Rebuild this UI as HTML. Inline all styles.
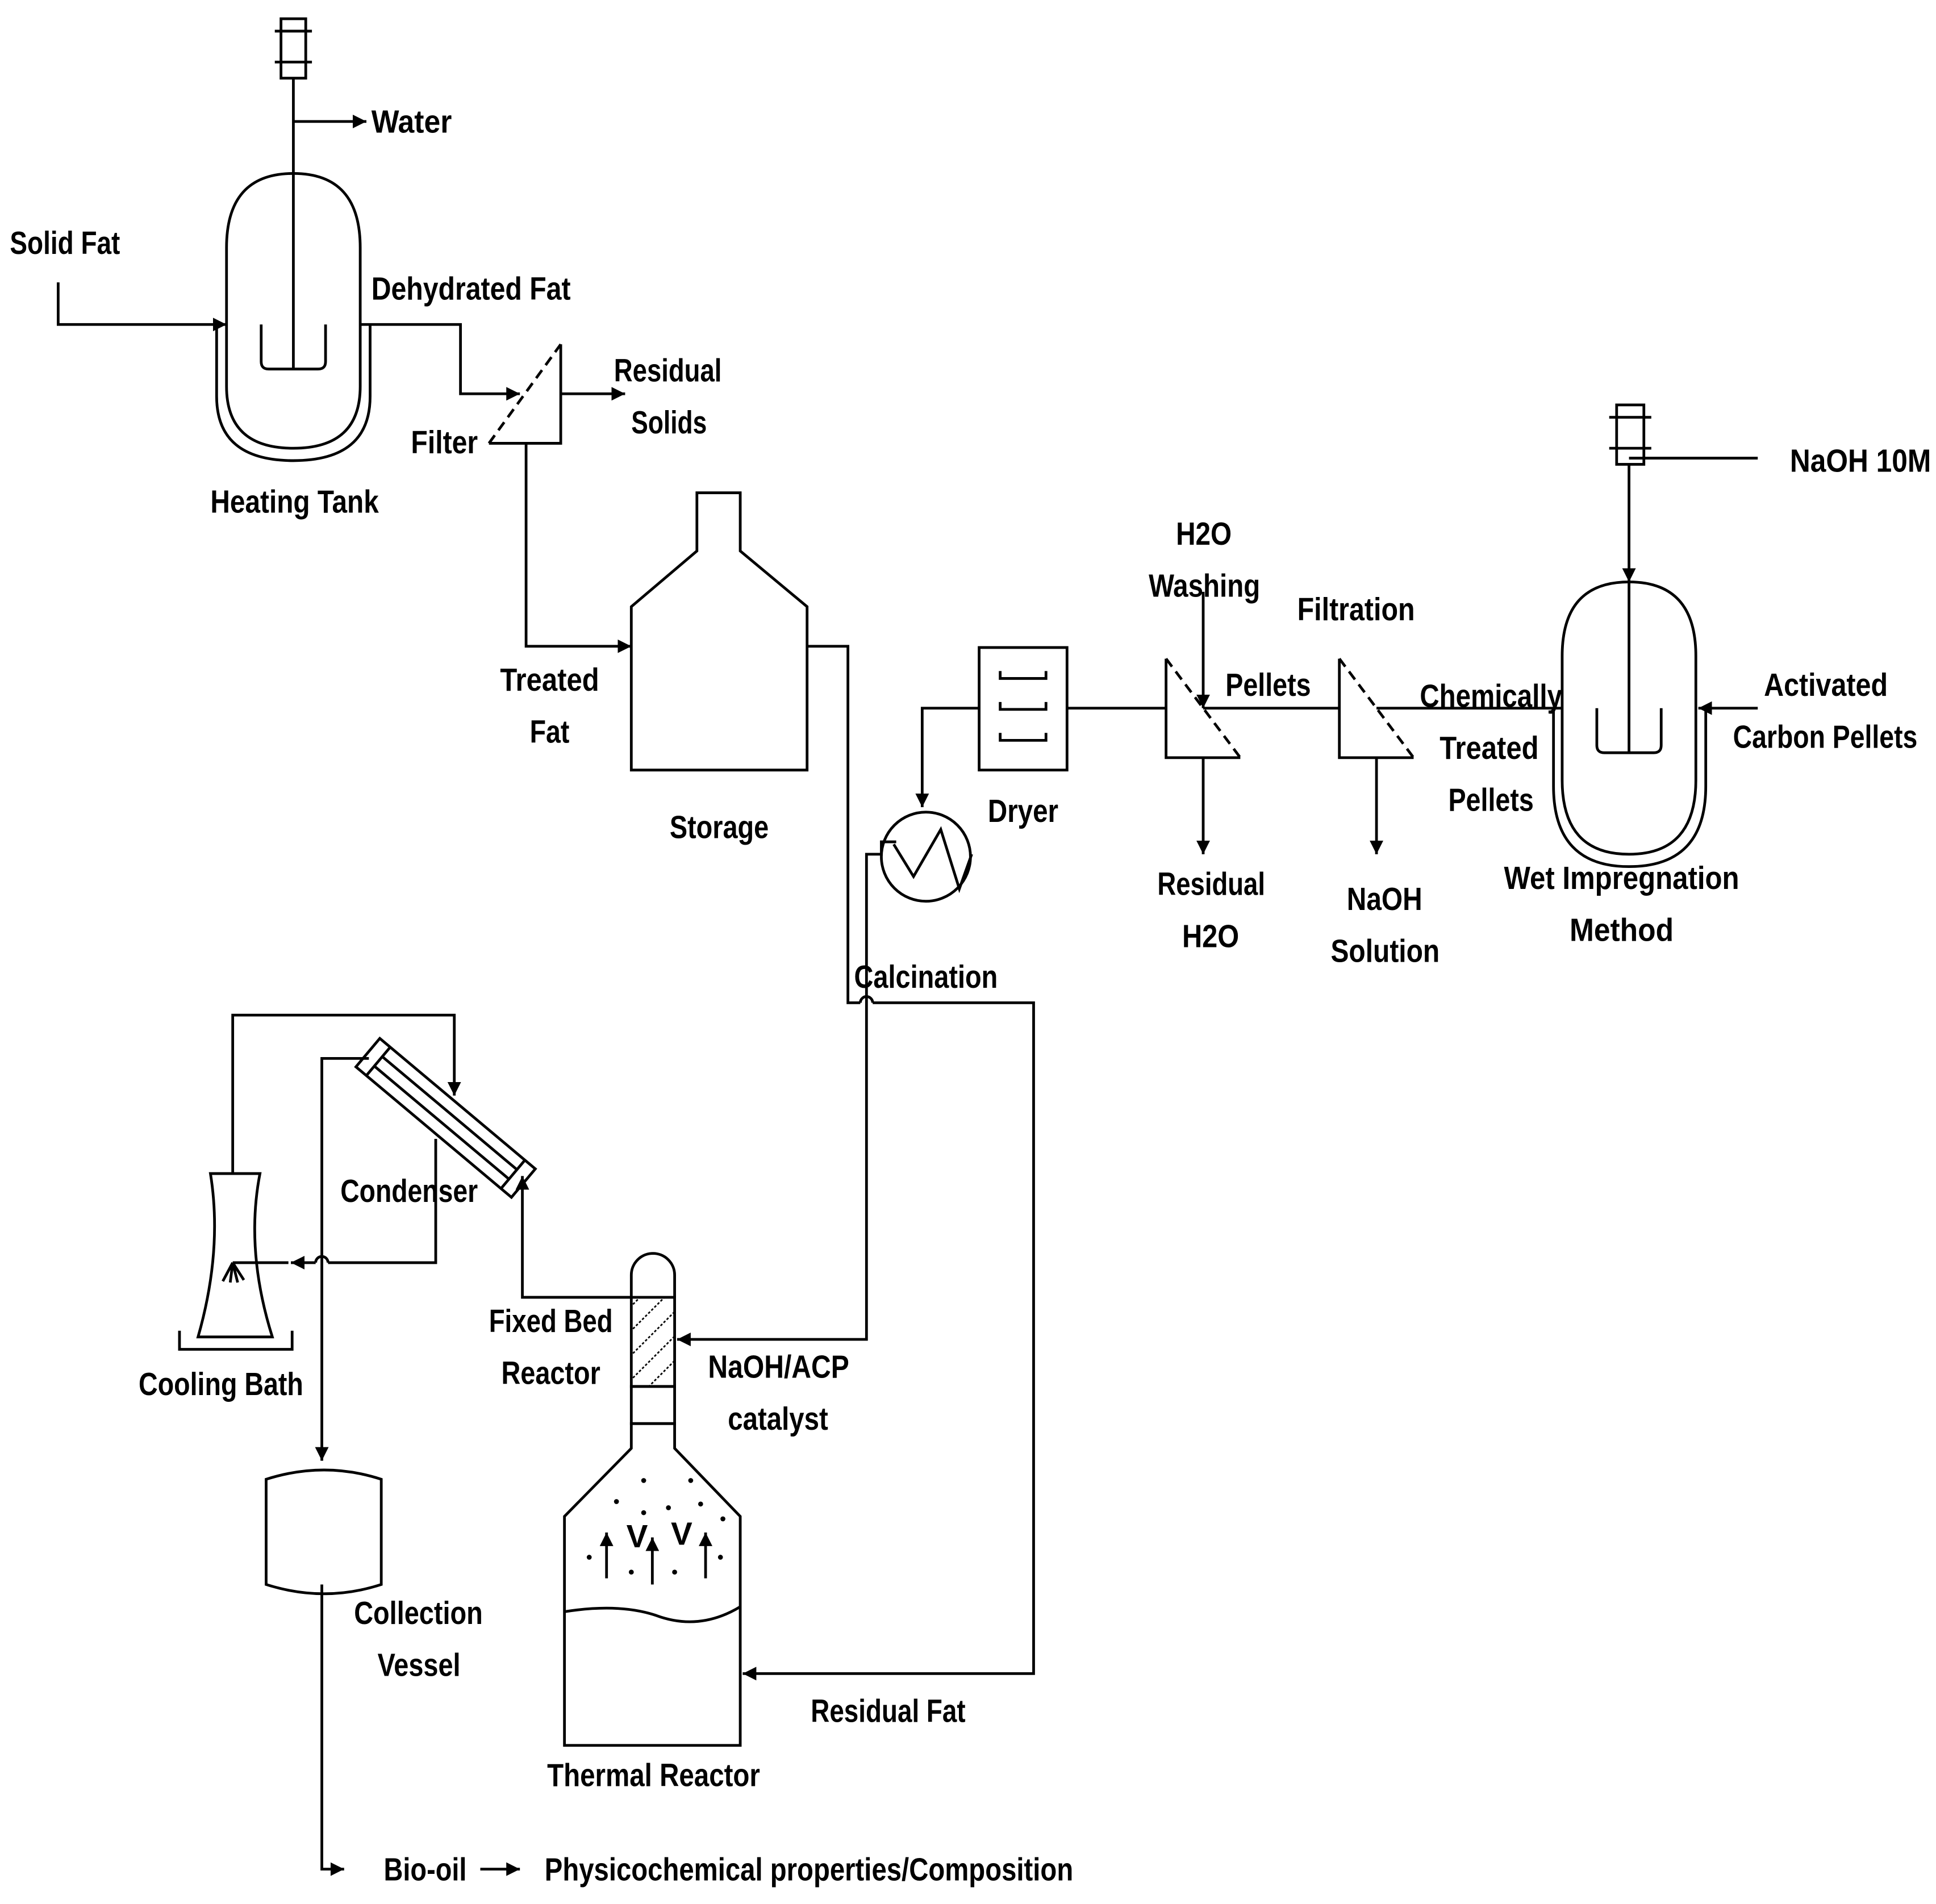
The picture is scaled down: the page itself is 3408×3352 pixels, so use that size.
<!DOCTYPE html>
<html><head><meta charset="utf-8"><style>
html,body{margin:0;padding:0;background:#fff;}
svg{display:block;}
text{font-family:"Liberation Sans Narrow","Liberation Sans",sans-serif;font-weight:bold;font-size:26px;fill:#000;}
</style></head><body>
<svg width="3408" height="3352" viewBox="0 0 1564 1538" xmlns="http://www.w3.org/2000/svg">
<defs>
<marker id="a" viewBox="0 0 10 10" refX="10" refY="5" markerWidth="5" markerHeight="5" orient="auto"><path d="M0,0 L10,5 L0,10 Z" fill="#000"/></marker>
<pattern id="h" width="14" height="14" patternUnits="userSpaceOnUse" patternTransform="rotate(45)"><line x1="0" y1="0" x2="0" y2="14" stroke="#000" stroke-width="2.5" stroke-dasharray="2,1.5"/></pattern>
</defs>
<g fill="none" stroke="#000" stroke-width="2.2">
<rect x="227" y="15" width="20" height="48"/><line x1="222" y1="25" x2="252" y2="25"/><line x1="222" y1="50" x2="252" y2="50"/>
<line x1="237" y1="63" x2="237" y2="298"/>
<line x1="237" y1="98" x2="296" y2="98" marker-end="url(#a)"/>
<path d="M183,200 Q183,140 237,140 Q291,140 291,200 L291,312 Q291,362 237,362 Q183,362 183,312 Z"/>
<path d="M175,262 L175,320 Q175,372 237,372 Q299,372 299,320 L299,262"/>
<path d="M211,262 L211,292 Q211,298 217,298 L257,298 Q263,298 263,292 L263,262"/>
<polyline points="47,228 47,262 183,262" marker-end="url(#a)"/>
<polyline points="291,262 372,262 372,318 420,318" marker-end="url(#a)"/>
<polyline points="453,278 453,358 395,358"/>
<line x1="395" y1="358" x2="453" y2="278" stroke-dasharray="8,5"/>
<line x1="453" y1="318" x2="505" y2="318" marker-end="url(#a)"/>
<polyline points="425,358 425,522 510,522" marker-end="url(#a)"/>
<polygon points="510,490 563,445 563,398 598,398 598,445 652,490 652,622 510,622"/>
<polyline points="652,522 685,522 685,810 695,810"/>
<path d="M695,810 A5,5 0 0 1 705,810"/>
<polyline points="705,810 835,810 835,1352 600,1352" marker-end="url(#a)"/>
<circle cx="748" cy="692" r="36"/>
<polyline points="722,682 738,708 760,670 775,718 785,690"/>
<polyline points="791,572 745,572 745,652" marker-end="url(#a)"/>
<polyline points="724,680 712,680 712,690 700,690 700,1082 547,1082" marker-end="url(#a)"/>
<rect x="791" y="523" width="71" height="99"/>
<polyline points="808,542 808,548 845,548 845,542"/>
<polyline points="808,567 808,573 845,573 845,567"/>
<polyline points="808,592 808,598 845,598 845,592"/>
<line x1="862" y1="572" x2="942" y2="572"/>
<polyline points="942,532 942,612 1002,612"/>
<line x1="942" y1="532" x2="1002" y2="612" stroke-dasharray="8,5"/>
<line x1="972" y1="478" x2="972" y2="572" marker-end="url(#a)"/>
<line x1="972" y1="572" x2="1082" y2="572"/>
<line x1="972" y1="612" x2="972" y2="690" marker-end="url(#a)"/>
<polyline points="1082,532 1082,612 1142,612"/>
<line x1="1082" y1="532" x2="1142" y2="612" stroke-dasharray="8,5"/>
<line x1="1112" y1="612" x2="1112" y2="690" marker-end="url(#a)"/>
<line x1="1112" y1="572" x2="1262" y2="572"/>
<rect x="1306" y="327" width="22" height="48"/><line x1="1300" y1="337" x2="1334" y2="337"/><line x1="1300" y1="362" x2="1334" y2="362"/>
<polyline points="1316,370 1420,370"/>
<line x1="1316" y1="375" x2="1316" y2="470" marker-end="url(#a)"/>
<line x1="1316" y1="470" x2="1316" y2="608"/>
<path d="M1262,530 Q1262,470 1316,470 Q1370,470 1370,530 L1370,630 Q1370,690 1316,690 Q1262,690 1262,630 Z"/>
<path d="M1255,572 L1255,635 Q1255,700 1316,700 Q1378,700 1378,635 L1378,572"/>
<path d="M1290,572 L1290,602 Q1290,608 1296,608 L1336,608 Q1342,608 1342,602 L1342,572"/>
<line x1="1420" y1="572" x2="1372" y2="572" marker-end="url(#a)"/>
<g transform="translate(360,903) rotate(40)">
<rect x="-82" y="-15" width="164" height="30"/>
<line x1="-71" y1="-15" x2="-71" y2="15"/><line x1="71" y1="-15" x2="71" y2="15"/>
<line x1="-71" y1="-5" x2="71" y2="-5"/><line x1="-71" y1="5" x2="71" y2="5"/>
</g>
<polyline points="188,948 188,820 367,820 367,885" marker-end="url(#a)"/>
<polyline points="298,855 260,855 260,1180" marker-end="url(#a)"/>
<polyline points="352,920 352,1020 265,1020"/>
<path d="M265,1020 A5,5 0 0 0 255,1020"/>
<line x1="255" y1="1020" x2="235" y2="1020" marker-end="url(#a)"/>
<polyline points="510,1048 422,1048 422,950" marker-end="url(#a)"/>
<path d="M170,948 L210,948 Q198,1010 220,1080 L160,1080 Q180,1010 170,948 Z"/>
<polyline points="145,1075 145,1090 236,1090 236,1075"/>
<line x1="188" y1="1020" x2="233" y2="1020"/>
<path d="M188,1020 L180,1035 M188,1020 L186,1036 M188,1020 L192,1036 M188,1020 L197,1034"/>
<path d="M215,1195 Q262,1180 308,1195 L308,1280 Q262,1295 215,1280 Z"/>
<polyline points="260,1280 260,1510 278,1510" marker-end="url(#a)"/>
<line x1="388" y1="1510" x2="420" y2="1510" marker-end="url(#a)"/>
<path d="M510,1048 L510,1030 A17.5,17.5 0 0 1 545,1030 L545,1048"/>
<rect x="510" y="1048" width="35" height="72" fill="url(#h)"/>
<rect x="510" y="1120" width="35" height="30"/>
<polygon points="510,1150 510,1170 456,1225 456,1410 598,1410 598,1225 545,1170 545,1150"/>
<path d="M456,1302 Q500,1295 530,1305 Q565,1318 598,1298"/>
<line x1="490" y1="1275" x2="490" y2="1238" marker-end="url(#a)"/>
<line x1="527" y1="1280" x2="527" y2="1242" marker-end="url(#a)"/>
<line x1="570" y1="1275" x2="570" y2="1238" marker-end="url(#a)"/>
</g>
<g fill="#000">
<circle cx="520" cy="1196" r="2"/><circle cx="558" cy="1196" r="2"/><circle cx="498" cy="1213" r="2"/><circle cx="540" cy="1218" r="2"/><circle cx="566" cy="1215" r="2"/><circle cx="584" cy="1227" r="2"/><circle cx="520" cy="1222" r="2"/><circle cx="476" cy="1258" r="2"/><circle cx="510" cy="1270" r="2"/><circle cx="545" cy="1270" r="2"/><circle cx="582" cy="1258" r="2"/>
</g>
<text x="506" y="1250" font-size="16">V</text><text x="542" y="1248" font-size="16">V</text>
<g lengthAdjust="spacingAndGlyphs">
<text x="300" y="107" textLength="65" lengthAdjust="spacingAndGlyphs">Water</text>
<text x="8" y="205" textLength="89" lengthAdjust="spacingAndGlyphs">Solid Fat</text>
<text x="300" y="242" textLength="161" lengthAdjust="spacingAndGlyphs">Dehydrated Fat</text>
<text x="496" y="308" textLength="87" lengthAdjust="spacingAndGlyphs">Residual</text>
<text x="510" y="350" textLength="61" lengthAdjust="spacingAndGlyphs">Solids</text>
<text x="332" y="366" textLength="54" lengthAdjust="spacingAndGlyphs">Filter</text>
<text x="170" y="414" textLength="136" lengthAdjust="spacingAndGlyphs">Heating Tank</text>
<text x="404" y="558" textLength="80" lengthAdjust="spacingAndGlyphs">Treated</text>
<text x="428" y="600" textLength="32" lengthAdjust="spacingAndGlyphs">Fat</text>
<text x="541" y="677" textLength="80" lengthAdjust="spacingAndGlyphs">Storage</text>
<text x="798" y="664" textLength="57" lengthAdjust="spacingAndGlyphs">Dryer</text>
<text x="690" y="798" textLength="116" lengthAdjust="spacingAndGlyphs">Calcination</text>
<text x="950" y="440" textLength="45" lengthAdjust="spacingAndGlyphs">H2O</text>
<text x="928" y="482" textLength="90" lengthAdjust="spacingAndGlyphs">Washing</text>
<text x="990" y="562" textLength="69" lengthAdjust="spacingAndGlyphs">Pellets</text>
<text x="935" y="723" textLength="87" lengthAdjust="spacingAndGlyphs">Residual</text>
<text x="955" y="765" textLength="46" lengthAdjust="spacingAndGlyphs">H2O</text>
<text x="1048" y="501" textLength="95" lengthAdjust="spacingAndGlyphs">Filtration</text>
<text x="1088" y="735" textLength="61" lengthAdjust="spacingAndGlyphs">NaOH</text>
<text x="1075" y="777" textLength="88" lengthAdjust="spacingAndGlyphs">Solution</text>
<text x="1147" y="571" textLength="115" lengthAdjust="spacingAndGlyphs">Chemically</text>
<text x="1163" y="613" textLength="80" lengthAdjust="spacingAndGlyphs">Treated</text>
<text x="1170" y="655" textLength="69" lengthAdjust="spacingAndGlyphs">Pellets</text>
<text x="1446" y="381" textLength="114" lengthAdjust="spacingAndGlyphs">NaOH 10M</text>
<text x="1425" y="562" textLength="100" lengthAdjust="spacingAndGlyphs">Activated</text>
<text x="1400" y="604" textLength="149" lengthAdjust="spacingAndGlyphs">Carbon Pellets</text>
<text x="1215" y="718" textLength="190" lengthAdjust="spacingAndGlyphs">Wet Impregnation</text>
<text x="1268" y="760" textLength="84" lengthAdjust="spacingAndGlyphs">Method</text>
<text x="275" y="971" textLength="111" lengthAdjust="spacingAndGlyphs">Condenser</text>
<text x="112" y="1127" textLength="133" lengthAdjust="spacingAndGlyphs">Cooling Bath</text>
<text x="395" y="1076" textLength="100" lengthAdjust="spacingAndGlyphs">Fixed Bed</text>
<text x="405" y="1118" textLength="80" lengthAdjust="spacingAndGlyphs">Reactor</text>
<text x="572" y="1113" textLength="114" lengthAdjust="spacingAndGlyphs">NaOH/ACP</text>
<text x="588" y="1155" textLength="81" lengthAdjust="spacingAndGlyphs">catalyst</text>
<text x="286" y="1312" textLength="104" lengthAdjust="spacingAndGlyphs">Collection</text>
<text x="305" y="1354" textLength="67" lengthAdjust="spacingAndGlyphs">Vessel</text>
<text x="655" y="1391" textLength="125" lengthAdjust="spacingAndGlyphs">Residual Fat</text>
<text x="442" y="1443" textLength="172" lengthAdjust="spacingAndGlyphs">Thermal Reactor</text>
<text x="310" y="1519" textLength="67" lengthAdjust="spacingAndGlyphs">Bio-oil</text>
<text x="440" y="1519" textLength="427" lengthAdjust="spacingAndGlyphs">Physicochemical properties/Composition</text>
</g>
</svg>
</body></html>
